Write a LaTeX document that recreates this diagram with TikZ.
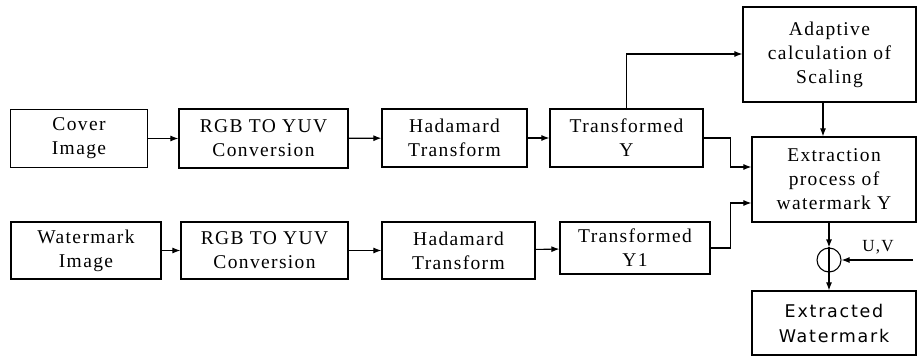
\documentclass[tikz,border=0pt]{standalone}
\usepackage{fontspec}
\setmainfont{Liberation Serif}
\newfontfamily\tms[LetterSpace=7]{Liberation Serif}
\newfontfamily\vsans[LetterSpace=10]{DejaVu Sans}
\usetikzlibrary{arrows.meta}
\begin{document}
\begin{tikzpicture}[x=1pt,y=-1pt,
  blk/.style={draw,line width=1.2pt,inner sep=0pt,align=center,font=\tms\fontsize{19.5}{24}\selectfont},
  arr/.style={line width=1.1pt,-{Latex[length=8pt,width=6pt]}},
  ln/.style={line width=1.1pt}]
\useasboundingbox (0,0) rectangle (917,356);
\node[blk,minimum width=137,minimum height=58] (cover) at (79,138.5) {Cover\\Image};
\node[blk,minimum width=169,minimum height=59] (rgb1) at (263.5,138.5) {RGB TO YUV\\Conversion};
\node[blk,minimum width=145,minimum height=58] (had1) at (454.5,138) {Hadamard\\Transform};
\node[blk,minimum width=153,minimum height=58] (ty) at (626.5,138) {Transformed\\Y};
\node[blk,minimum width=173,minimum height=95] (adapt) at (829.5,54.5) {Adaptive\\calculation of\\Scaling};
\node[blk,minimum width=164,minimum height=85] (ext) at (834,179.5) {Extraction\\process of\\watermark Y};
\node[blk,minimum width=150,minimum height=57] (wm) at (86,250.5) {Watermark\\Image};
\node[blk,minimum width=167,minimum height=57] (rgb2) at (264.5,250.5) {RGB TO YUV\\Conversion};
\node[blk,minimum width=153,minimum height=57] (had2) at (458.5,250.5) {Hadamard\\Transform};
\node[blk,minimum width=150,minimum height=52] (ty1) at (635,248) {Transformed\\Y1};
\node[blk,minimum width=164,minimum height=64,font=\vsans\fontsize{17.5}{25}\selectfont] (extw) at (834,323) {Extracted\\Watermark};
\node[draw,circle,line width=1.1pt,minimum size=24,inner sep=0pt] (op) at (829,260) {};
\draw[ln] (op.north) -- (op.south);
\coordinate (uv) at (913,260);
\node[font=\tms\fontsize{17}{18}\selectfont] (uvl) at (878,247) {U,V};
\draw[arr] (cover) -- (rgb1);
\draw[arr] (rgb1) -- (had1);
\draw[arr] (had1) -- (ty);
\draw[arr] (wm) -- (rgb2);
\draw[arr] (rgb2) -- (had2);
\draw[arr] (had2) -- (ty1);
\draw[arr] (ty.north) |- (adapt.west |- 0,54);
\draw[arr] (ty.east) -- ++(27,0) |- (ext.west |- 0,167);
\draw[arr] (ty1.east) -- ++(20,0) |- (ext.west |- 0,203);
\draw[arr] (adapt.south -| 823,0) -- (ext.north -| 823,0);
\draw[arr] (ext.south -| op) -- (op.north);
\draw[arr] (uv) -- (op.east);
\draw[arr] (op.south) -- (extw.north -| op);
\end{tikzpicture}
\end{document}
